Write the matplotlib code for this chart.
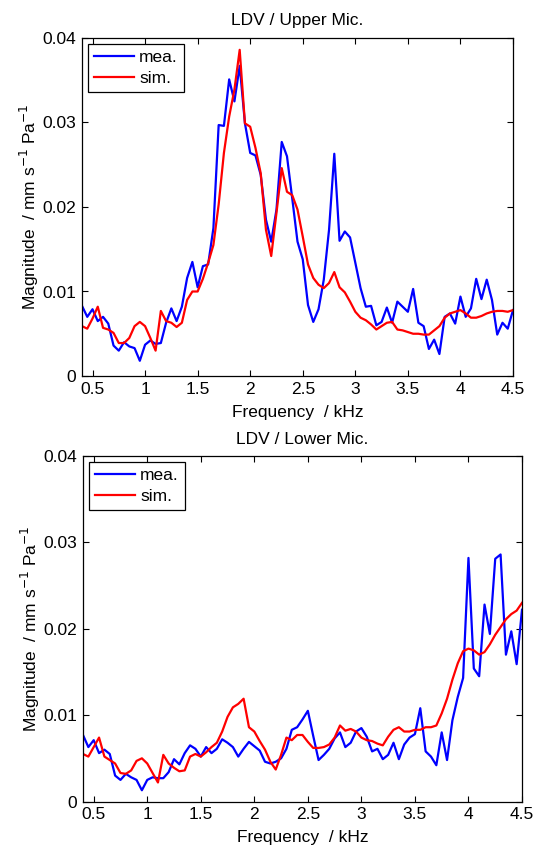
import numpy as np
import matplotlib
matplotlib.use("Agg")
import matplotlib.pyplot as plt

plt.rcParams['font.family'] = ['Liberation Sans', 'DejaVu Sans']

# Frequency grid (kHz), 0.05 kHz steps
freq = np.round(np.arange(0.4, 4.5001, 0.05), 3)

# Upper mic (values in units of 1e-3 mm s^-1 Pa^-1)
upper_mea = [8.3, 7.0, 7.9, 6.5, 7.0, 6.2, 3.6, 3.0, 4.0, 3.5,
             3.3, 1.8, 3.7, 4.2, 3.8, 3.9, 6.3, 8.0, 6.5, 8.2,
             11.6, 13.5, 10.5, 13.0, 13.2, 17.5, 29.7, 29.6, 35.1, 32.5,
             36.7, 29.9, 26.4, 26.1, 23.8, 18.5, 15.9, 19.7, 27.7, 26.0,
             21.0, 15.9, 13.8, 8.4, 6.4, 7.9, 11.4, 17.3, 26.3, 16.0,
             17.1, 16.4, 13.4, 10.4, 8.2, 8.3, 6.0, 6.4, 8.1, 6.3,
             8.8, 8.2, 7.6, 10.3, 6.3, 5.9, 3.2, 4.3, 2.6, 7.0,
             7.4, 6.2, 9.4, 7.0, 8.0, 11.5, 9.1, 11.4, 9.0, 4.9,
             6.3, 5.6, 7.8]
upper_sim = [5.9, 5.6, 6.8, 8.2, 5.7, 5.5, 5.1, 3.9, 3.9, 4.5,
             5.9, 6.4, 5.9, 4.5, 3.0, 7.7, 6.5, 6.3, 5.8, 6.3,
             9.0, 10.0, 10.0, 11.5, 13.4, 15.5, 20.3, 26.4, 30.7, 33.9,
             38.6, 29.9, 29.5, 27.0, 24.0, 17.3, 14.2, 19.3, 24.6, 21.8,
             21.4, 19.7, 16.5, 13.2, 11.6, 10.8, 10.4, 11.0, 12.3, 10.5,
             9.9, 8.8, 7.6, 6.9, 6.6, 6.1, 5.5, 5.9, 6.3, 6.4,
             5.5, 5.4, 5.2, 5.0, 5.0, 4.9, 4.9, 5.4, 5.9, 6.9,
             7.4, 7.6, 7.8, 7.4, 6.9, 6.9, 7.1, 7.4, 7.6, 7.7,
             7.7, 7.6, 7.8]

# Lower mic
lower_mea = [7.7, 6.3, 7.1, 5.6, 6.0, 5.5, 3.0, 2.5, 3.2, 2.8,
             2.5, 1.3, 2.5, 2.8, 2.7, 2.7, 3.4, 4.9, 4.3, 5.6,
             6.5, 6.1, 5.2, 6.3, 5.6, 6.1, 7.2, 6.8, 6.3, 5.2,
             6.1, 6.9, 6.4, 5.9, 4.6, 4.4, 4.6, 5.0, 6.1, 8.3,
             8.6, 9.5, 10.5, 7.6, 4.8, 5.4, 6.1, 7.3, 8.0, 6.3,
             6.8, 8.1, 8.5, 7.5, 5.8, 6.1, 4.9, 5.4, 6.8, 4.9,
             6.6, 7.4, 7.8, 10.8, 5.8, 5.2, 4.2, 8.0, 4.8, 9.4,
             12.1, 14.3, 28.2, 15.4, 14.5, 22.8, 19.4, 28.1, 28.6, 17.0,
             19.7, 15.9, 22.2]
lower_sim = [5.5, 5.2, 6.3, 7.4, 5.2, 4.8, 4.4, 3.3, 3.2, 3.6,
             4.7, 5.0, 4.4, 3.3, 2.2, 5.4, 4.4, 3.9, 3.5, 3.6,
             5.2, 5.5, 5.2, 5.7, 6.3, 6.8, 8.1, 9.8, 10.9, 11.3,
             11.9, 8.6, 8.1, 7.0, 6.0, 4.6, 3.7, 5.4, 7.4, 7.1,
             7.7, 7.7, 6.9, 6.2, 6.2, 6.3, 6.6, 7.4, 8.8, 8.2,
             8.4, 8.1, 7.4, 7.1, 7.0, 6.7, 6.5, 7.5, 8.3, 8.6,
             8.1, 8.1, 8.3, 8.3, 8.6, 8.6, 8.8, 10.2, 11.9, 14.1,
             16.0, 17.4, 17.7, 17.5, 17.0, 17.3, 18.2, 19.3, 20.2, 21.1,
             21.7, 22.1, 23.0]

titles = ["LDV / Upper Mic.", "LDV / Lower Mic."]
xticks = [0.5, 1, 1.5, 2, 2.5, 3, 3.5, 4, 4.5]
xticklabels = ["0.5", "1", "1.5", "2", "2.5", "3", "3.5", "4", "4.5"]
yticks = [0, 0.01, 0.02, 0.03, 0.04]
yticklabels = ["0", "0.01", "0.02", "0.03", "0.04"]

W, H = 541, 846
fig = plt.figure(figsize=(W / 100, H / 100), dpi=100)

boxes = [(82, 513, 38, 376), (83, 522, 456, 801.5)]
data = [(upper_mea, upper_sim), (lower_mea, lower_sim)]
FS = 12.5

for (l, r, t, b), (mea, sim), title in zip(boxes, data, titles):
    ax = fig.add_axes([l / W, 1 - b / H, (r - l) / W, (b - t) / H])
    ax.plot(freq, np.array(mea) * 1e-3, color=(0, 0, 1), lw=1.6, label="mea.")
    ax.plot(freq, np.array(sim) * 1e-3, color=(1, 0, 0), lw=1.6, label="sim.")
    ax.set_xlim(0.4, 4.5)
    ax.set_ylim(0, 0.04)
    ax.set_xticks(xticks)
    ax.set_xticklabels(xticklabels)
    ax.set_yticks(yticks)
    ax.set_yticklabels(yticklabels)
    ax.tick_params(direction='in', top=True, right=True, length=4, width=0.8,
                   labelsize=FS, pad=4)
    for s in ax.spines.values():
        s.set_linewidth(0.9)
    ax.set_title(title, fontsize=FS, pad=9)
    ax.set_xlabel("Frequency  / kHz", fontsize=FS, labelpad=6)
    ax.set_ylabel("Magnitude  / mm s$^{-1}$ Pa$^{-1}$", fontsize=FS, labelpad=1)
    leg = ax.legend(loc='upper left', fontsize=FS, fancybox=False, framealpha=1,
                    edgecolor='black', borderaxespad=0.35, handlelength=2.3,
                    handletextpad=0.3, labelspacing=0.3, borderpad=0.35)
    leg.get_frame().set_linewidth(0.9)

fig.savefig("out.png", dpi=100)
